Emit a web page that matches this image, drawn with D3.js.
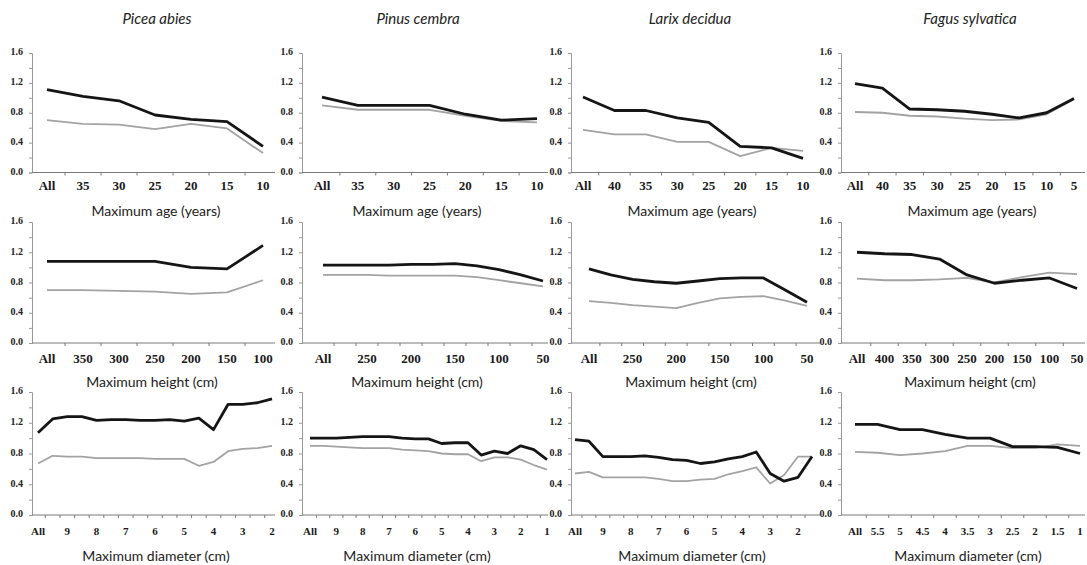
<!DOCTYPE html>
<html><head><meta charset="utf-8">
<script src="https://cdn.jsdelivr.net/npm/d3@7"></script>
<style>body{margin:0;background:#fff}svg{display:block}</style>
</head><body><svg id="c" width="1087" height="565"></svg>
<script>
// ---------- DATA ----------
const speciesNames = ["Picea abies", "Pinus cembra", "Larix decidua", "Fagus sylvatica"];
const axisTitles = ["Maximum age (years)", "Maximum height (cm)", "Maximum diameter (cm)"];
const yTickValues = [0, 0.4, 0.8, 1.2, 1.6];
const yTickLabels = ["0.0", "0.4", "0.8", "1.2", "1.6"];
const yMinorTicks = [0, 0.2, 0.4, 0.6, 0.8, 1.0, 1.2, 1.4, 1.6];

// Row 1 - maximum age
const piceaAgeCats  = ["All","35","30","25","20","15","10"];
const piceaAgeBlack = [1.11,1.02,0.96,0.77,0.71,0.68,0.35];
const piceaAgeGray  = [0.70,0.65,0.64,0.58,0.65,0.59,0.26];

const pinusAgeCats  = ["All","35","30","25","20","15","10"];
const pinusAgeBlack = [1.01,0.90,0.90,0.90,0.78,0.70,0.72];
const pinusAgeGray  = [0.90,0.84,0.84,0.84,0.76,0.69,0.67];

const larixAgeCats  = ["All","40","35","30","25","20","15","10"];
const larixAgeBlack = [1.01,0.83,0.83,0.73,0.67,0.35,0.33,0.19];
const larixAgeGray  = [0.57,0.51,0.51,0.41,0.41,0.22,0.33,0.29];

const fagusAgeCats  = ["All","40","35","30","25","20","15","10","5"];
const fagusAgeBlack = [1.19,1.13,0.85,0.84,0.82,0.78,0.73,0.80,0.99];
const fagusAgeGray  = [0.81,0.80,0.76,0.75,0.72,0.70,0.71,0.78,0.98];

// Row 2 - maximum height
const piceaHeightCats  = ["All","350","300","250","200","150","100"];
const piceaHeightBlack = [1.08,1.08,1.08,1.08,1.00,0.98,1.29];
const piceaHeightGray  = [0.70,0.70,0.69,0.68,0.65,0.67,0.83];

const pinusHeightCats   = ["All","275","250","225","200","175","150","125","100","75","50"];
const pinusHeightLabels = ["All","250","200","150","100","50"];
const pinusHeightBlack  = [1.03,1.03,1.03,1.03,1.04,1.04,1.05,1.02,0.97,0.90,0.82];
const pinusHeightGray   = [0.90,0.90,0.90,0.89,0.89,0.89,0.89,0.87,0.83,0.79,0.75];

const larixHeightCats   = ["All","275","250","225","200","175","150","125","100","75","50"];
const larixHeightLabels = ["All","250","200","150","100","50"];
const larixHeightBlack  = [0.98,0.90,0.84,0.81,0.79,0.82,0.85,0.86,0.86,0.70,0.54];
const larixHeightGray   = [0.555,0.53,0.50,0.48,0.46,0.53,0.59,0.61,0.62,0.56,0.49];

const fagusHeightCats  = ["All","400","350","300","250","200","150","100","50"];
const fagusHeightBlack = [1.20,1.18,1.17,1.11,0.90,0.79,0.83,0.86,0.72];
const fagusHeightGray  = [0.85,0.83,0.83,0.84,0.86,0.80,0.87,0.93,0.91];

// Row 3 - maximum diameter
const piceaDiamCats   = ["All","9.5","9","8.5","8","7.5","7","6.5","6","5.5","5","4.5","4","3.5","3","2.5","2"];
const piceaDiamLabels = ["All","9","8","7","6","5","4","3","2"];
const piceaDiamBlack  = [1.07,1.25,1.28,1.28,1.23,1.24,1.24,1.23,1.23,1.24,1.22,1.26,1.11,1.44,1.44,1.46,1.51];
const piceaDiamGray   = [0.67,0.77,0.76,0.76,0.74,0.74,0.74,0.74,0.73,0.73,0.73,0.64,0.69,0.83,0.86,0.87,0.90];

const pinusDiamCats   = ["All","9.5","9","8.5","8","7.5","7","6.5","6","5.5","5","4.5","4","3.5","3","2.5","2","1.5","1"];
const pinusDiamLabels = ["All","9","8","7","6","5","4","3","2","1"];
const pinusDiamBlack  = [1.00,1.00,1.00,1.01,1.02,1.02,1.02,1.00,0.99,0.99,0.93,0.94,0.94,0.78,0.83,0.80,0.90,0.85,0.72];
const pinusDiamGray   = [0.90,0.90,0.89,0.88,0.87,0.87,0.87,0.85,0.84,0.83,0.80,0.79,0.79,0.70,0.75,0.75,0.72,0.65,0.59];

const larixDiamCats   = ["All","9.5","9","8.5","8","7.5","7","6.5","6","5.5","5","4.5","4","3.5","3","2.5","2","1.5"];
const larixDiamLabels = ["All","9","8","7","6","5","4","3","2"];
const larixDiamBlack  = [0.98,0.96,0.76,0.76,0.76,0.77,0.75,0.72,0.71,0.67,0.69,0.73,0.76,0.82,0.54,0.44,0.49,0.76];
const larixDiamGray   = [0.54,0.56,0.49,0.49,0.49,0.49,0.47,0.44,0.44,0.46,0.47,0.53,0.57,0.62,0.41,0.52,0.76,0.76];

const fagusDiamCats  = ["All","5.5","5","4.5","4","3.5","3","2.5","2","1.5","1"];
const fagusDiamBlack = [1.18,1.18,1.11,1.11,1.05,1.00,1.00,0.89,0.89,0.88,0.80];
const fagusDiamGray  = [0.82,0.81,0.78,0.80,0.83,0.90,0.90,0.87,0.87,0.92,0.90];

// ---------- LAYOUT ----------
const colAxisX   = [32, 302, 571, 841];
const colAxisEnd = [275, 548, 820, 1085];
const rowY       = [[172.5, 53], [343, 222], [515, 392]];
const dataRange  = [
  [[47,263],[322,537],[583,803],[855,1074]],
  [[47,263],[323,543],[589,807],[857,1077]],
  [[38,272],[310,547],[575,812],[855,1080]]
];
const titleX = [157, 418, 690, 970];
const axisTitleX = [[156,417,692,972],[152,417,691,970],[156,417,692,968]];
const axisTitleY = [212, 383, 557];
const xLabelSize = [13, 13, 11];

const panels = [
  [ [piceaAgeCats, piceaAgeCats, piceaAgeBlack, piceaAgeGray],
    [pinusAgeCats, pinusAgeCats, pinusAgeBlack, pinusAgeGray],
    [larixAgeCats, larixAgeCats, larixAgeBlack, larixAgeGray],
    [fagusAgeCats, fagusAgeCats, fagusAgeBlack, fagusAgeGray] ],
  [ [piceaHeightCats, piceaHeightCats, piceaHeightBlack, piceaHeightGray],
    [pinusHeightCats, pinusHeightLabels, pinusHeightBlack, pinusHeightGray],
    [larixHeightCats, larixHeightLabels, larixHeightBlack, larixHeightGray],
    [fagusHeightCats, fagusHeightCats, fagusHeightBlack, fagusHeightGray] ],
  [ [piceaDiamCats, piceaDiamLabels, piceaDiamBlack, piceaDiamGray],
    [pinusDiamCats, pinusDiamLabels, pinusDiamBlack, pinusDiamGray],
    [larixDiamCats, larixDiamLabels, larixDiamBlack, larixDiamGray],
    [fagusDiamCats, fagusDiamCats, fagusDiamBlack, fagusDiamGray] ]
];

const svg = d3.select("#c");
const tickFont = "'Liberation Serif', 'DejaVu Serif', serif";
const textFont = "Lato, 'Open Sans', sans-serif";

// species titles
svg.selectAll("text.title").data(speciesNames).join("text")
  .attr("class","title")
  .attr("x", (d,i) => titleX[i]).attr("y", 20)
  .attr("text-anchor","middle").attr("dominant-baseline","middle")
  .style("font-family", textFont).style("font-style","italic")
  .style("font-size","15px").style("fill","#222").text(d => d);

panels.forEach((row, r) => {
  row.forEach((p, c) => {
    const [cats, labels, black, gray] = p;
    const g = svg.append("g");
    const y = d3.scaleLinear().domain([0, 1.6]).range(rowY[r]);
    const x = d3.scalePoint().domain(cats).range(dataRange[r][c]);
    const ax = colAxisX[c];

    // y axis
    const yAxis = d3.axisLeft(y).tickValues(yMinorTicks).tickSize(3).tickFormat("");
    const yg = g.append("g").attr("transform", `translate(${ax},0)`).call(yAxis);
    yg.select(".domain").attr("stroke","#9a9a9a");
    yg.selectAll(".tick line").attr("stroke","#9a9a9a");
    g.selectAll("text.ylab").data(yTickValues).join("text")
      .attr("x", ax - 9).attr("y", d => y(d))
      .attr("text-anchor","end").attr("dominant-baseline","middle")
      .style("font-family", tickFont).style("font-weight","bold")
      .style("font-size","10px").style("fill","#222")
      .text((d,i) => yTickLabels[i]);

    // x axis line
    const x0 = y(0);
    g.append("line").attr("x1", ax).attr("x2", colAxisEnd[c])
      .attr("y1", x0).attr("y2", x0).attr("stroke","#7a7a7a").attr("stroke-width",1);
    // x ticks between categories
    const mids = [];
    for (let i = 0; i < cats.length - 1; i++) mids.push((x(cats[i]) + x(cats[i+1])) / 2);
    g.selectAll("line.xt").data(mids).join("line")
      .attr("x1", d => d).attr("x2", d => d)
      .attr("y1", x0).attr("y2", x0 + 3).attr("stroke","#7a7a7a");
    // x labels
    g.selectAll("text.xl").data(labels).join("text")
      .attr("x", d => x(d)).attr("y", x0 + (r === 0 ? 15 : 17))
      .attr("text-anchor","middle").attr("dominant-baseline","middle")
      .style("font-family", tickFont).style("font-weight","bold")
      .style("font-size", xLabelSize[r] + "px").style("fill","#1a1a1a")
      .text(d => d);

    // lines
    const line = d3.line().x((d,i) => x(cats[i])).y(d => y(d));
    g.append("path").datum(gray).attr("d", line)
      .attr("fill","none").attr("stroke","#a3a3a3").attr("stroke-width",1.8)
      .attr("stroke-linejoin","round");
    g.append("path").datum(black).attr("d", line)
      .attr("fill","none").attr("stroke","#151515").attr("stroke-width",2.8)
      .attr("stroke-linejoin","round");

    // axis title
    g.append("text").attr("x", axisTitleX[r][c]).attr("y", axisTitleY[r])
      .attr("text-anchor","middle").attr("dominant-baseline","middle")
      .style("font-family", textFont).style("font-size","14px").style("fill","#222")
      .text(axisTitles[r]);
  });
});
</script>
</body></html>
